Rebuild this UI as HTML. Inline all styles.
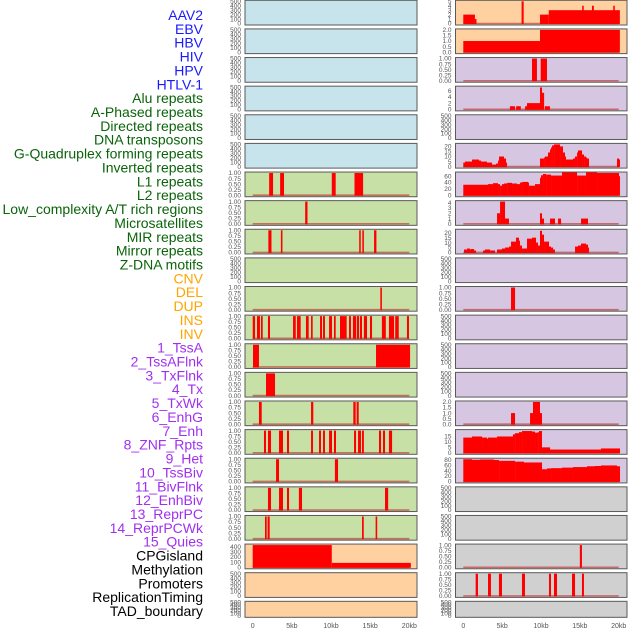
<!DOCTYPE html>
<html><head><meta charset="utf-8"><style>
html,body{margin:0;padding:0;background:#fff;width:630px;height:630px;overflow:hidden}
svg{display:block;font-family:"Liberation Sans",sans-serif}
</style></head><body>
<svg id="chart" width="630" height="630"></svg>
<script>
const labels=["AAV2","EBV","HBV","HIV","HPV","HTLV-1","Alu repeats","A-Phased repeats","Directed repeats","DNA transposons","G-Quadruplex forming repeats","Inverted repeats","L1 repeats","L2 repeats","Low_complexity A/T rich regions","Microsatellites","MIR repeats","Mirror repeats","Z-DNA motifs","CNV","DEL","DUP","INS","INV","1_TssA","2_TssAFlnk","3_TxFlnk","4_Tx","5_TxWk","6_EnhG","7_Enh","8_ZNF_Rpts","9_Het","10_TssBiv","11_BivFlnk","12_EnhBiv","13_ReprPC","14_ReprPCWk","15_Quies","CPGisland","Methylation","Promoters","ReplicationTiming","TAD_boundary"];
const labelGroups=[6,13,5,15,5];
const groupColors=["#1a1aff","#0a640a","#ffa500","#a030f0","#000"];
const T500=["0","100","200","300","400","500"];
const T1=["0.00","0.25","0.50","0.75","1.00"];
const T2=["0.0","0.5","1.0","1.5","2.0"];
const leftBg=["#c7e3ec","#c7e3ec","#c7e3ec","#c7e3ec","#c7e3ec","#c7e3ec","#c6e0a6","#c6e0a6","#c6e0a6","#c6e0a6","#c6e0a6","#c6e0a6","#c6e0a6","#c6e0a6","#c6e0a6","#c6e0a6","#c6e0a6","#c6e0a6","#c6e0a6","#ffd1a1","#ffd1a1","#ffd1a1"];
const leftTicks=[T500,T500,T500,T500,T500,T500,T1,T1,T1,T500,T1,T1,T1,T1,T1,T1,T1,T1,T1,["0","100","200","300","400"],T500,T500];
const leftMax=[500,500,500,500,500,500,1,1,1,500,1,1,1,1,1,1,1,1,1,430,500,500];
const leftSegs=[[],[],[],[],[],[],
[[2.1,2.6,1],[3.5,4.0,1],[10.1,10.6,1],[13.0,14.1,1]],
[[6.7,7.0,1]],
[[2.0,2.4,1],[3.6,3.8,1],[13.6,13.8,1],[14.0,14.2,1],[15.5,15.8,1]],
[],
[[16.3,16.5,1]],
[[0,0.3,1],[0.55,0.93,1],[1.06,1.28,1],[1.95,2.21,1],[5.15,5.5,1],[5.66,6.13,1],[6.8,7.15,1],[7.45,7.66,1],[8.6,8.85,1],[8.98,9.23,1],[9.75,10.13,1],[10.38,10.6,1],[11.15,12.0,1],[12.3,12.55,1],[12.8,13.2,1],[13.3,13.58,1],[13.7,13.96,1],[14.2,14.6,1],[14.98,15.24,1],[16.5,17.0,1],[17.4,18.05,1],[18.2,18.65,1],[19.7,19.96,1]],
[[0.04,0.8,1],[15.75,20.1,1]],
[[1.7,2.85,1]],
[[0.8,1.15,1],[7.45,7.74,1],[12.85,13.15,1],[13.28,13.54,1]],
[[1.44,1.7,1],[1.95,2.34,1],[3.36,3.87,1],[4.38,4.64,1],[7.45,7.7,1],[8.47,8.72,1],[8.98,9.23,1],[9.75,10.13,1],[10.38,10.64,1],[12.94,13.2,1],[13.45,13.83,1],[13.96,14.2,1],[16.13,16.39,1],[16.64,16.9,1],[17.4,17.8,1]],
[[2.98,3.36,1],[10.5,10.9,1]],
[[1.95,2.34,1],[3.36,3.87,1],[4.38,4.64,1],[5.9,6.3,1],[16.9,17.3,1]],
[[1.57,1.79,1],[1.9,2.17,1],[13.96,14.18,1],[15.7,15.9,1]],
[[0,10.1,430],[10.1,20.2,85]],
[],[]];
const rightBg=["#ffd1a1","#ffd1a1","#d6c6e1","#d6c6e1","#d6c6e1","#d6c6e1","#d6c6e1","#d6c6e1","#d6c6e1","#d6c6e1","#d6c6e1","#d6c6e1","#d6c6e1","#d6c6e1","#d6c6e1","#d6c6e1","#d6c6e1","#d0d0d0","#d0d0d0","#d0d0d0","#d0d0d0","#d0d0d0"];
const rightTicks=[["0","1","2","3","4","5"],T2,T1,["0","2","4","6"],T500,["0","5","10","15","20"],["0","20","40","60"],["0","1","2","3","4"],["0","5","10","15","20"],T500,T1,T500,T500,T500,T2,["0","5","10","15"],["0","20","40","60","80"],T500,T500,T1,T1,T500];
const rightMax=[5,2,1,7.1,500,22,70,4.2,22.5,500,1,500,500,500,2,20.4,82,500,500,1,1,500];
const rightSegs=[
[[0,1.5,2],[1.5,1.7,1],[7.5,7.77,5],[9.87,11.0,2],[11.0,20.15,3],[15.3,15.5,4],[16.56,16.8,4],[19.3,19.5,4]],
[[0,9.87,1],[9.87,20.15,2]],
[[8.84,9.48,1],[9.96,10.77,1]],
[[6.0,6.65,1],[6.8,7.4,1],[7.95,8.2,1],[8.2,9.87,2],[9.87,10.13,7],[10.13,10.4,5.3],[10.5,11.15,1]],
[],
[[0,0.22,4],[0.22,1.12,5],[1.12,2.02,7],[2.02,2.28,6],[2.28,3.05,5],[3.05,3.7,4],[3.7,4.21,2],[4.21,4.47,3],[4.47,4.6,6],[4.6,5.24,10],[5.24,5.5,8],[5.5,5.63,4],[9.87,10.39,8],[10.39,10.52,9],[10.52,10.9,10],[10.9,11.16,14],[11.16,11.29,17],[11.29,11.42,19],[11.42,11.68,21],[11.68,12.45,22],[12.45,12.83,20],[12.83,13.09,14],[13.09,13.22,10],[13.22,14.12,7],[14.12,14.38,8],[14.38,14.64,10],[14.64,14.76,14],[14.76,15.28,16],[15.28,15.54,12],[15.54,15.79,10],[15.79,15.92,9],[15.92,16.18,8],[19.78,20.04,8],[20.04,20.17,7]],
[[0,3.18,33],[3.18,3.82,35],[3.82,4.47,38],[4.47,4.73,35],[4.73,4.98,30],[4.98,5.24,35],[5.24,5.63,37],[5.63,6.27,39],[6.27,6.91,37],[6.91,7.3,35],[7.3,7.56,40],[7.56,8.33,42],[8.33,8.46,40],[8.46,9.23,30],[9.23,9.87,35],[9.87,10.0,55],[10.0,10.26,63],[10.26,10.65,67],[10.65,11.29,65],[11.29,12.7,62],[12.7,14.64,72],[14.64,15.79,62],[15.79,17.21,72],[17.21,20.04,70],[20.04,20.17,60]],
[[4.34,4.73,2],[4.73,5.37,4.2],[5.37,5.88,1],[9.87,10.13,2],[10.13,10.39,1],[11.16,11.8,1],[12.19,12.58,1],[15.15,16.05,1]],
[[0.09,0.48,3],[0.48,0.86,4],[0.86,0.99,3],[0.99,1.38,3.5],[1.38,1.64,2],[2.54,2.79,2],[2.79,3.44,3],[3.44,4.08,2],[4.34,4.98,3],[4.98,5.37,4],[5.37,5.88,5],[5.88,6.14,6],[6.14,6.78,11],[6.78,7.17,15],[7.17,7.3,12],[7.3,7.56,7],[7.56,8.2,4],[8.2,8.84,14],[8.84,9.36,15],[9.36,9.62,10],[9.62,9.87,7],[9.87,10.13,22],[10.13,10.39,18],[10.39,11.03,11],[11.03,11.29,6],[11.29,11.55,5],[11.55,11.8,3],[14.38,14.76,6],[14.76,15.15,7],[15.15,15.79,9],[15.79,16.05,8],[16.05,16.18,5]],
[],
[[6.14,6.66,1]],
[],[],[],
[[6.14,6.66,1],[8.59,8.97,1],[8.97,9.87,2],[9.87,10.13,1]],
[[0,1.12,14],[1.12,2.41,15],[2.41,3.05,14],[3.05,3.18,13],[3.18,4.34,14],[4.34,6.4,15],[6.4,6.66,17],[6.66,7.17,18],[7.17,7.56,19],[7.56,8.84,20],[8.84,9.23,19.5],[9.23,9.62,18.5],[9.62,9.74,19],[9.74,10.13,20],[10.13,11.16,5],[11.16,17.72,3],[17.72,20.17,4]],
[[0,1.12,82],[1.12,2.15,80],[2.15,3.95,81],[3.95,4.6,79],[4.6,6.66,76],[6.66,7.81,73],[7.81,10.13,70],[10.13,10.77,45],[10.77,11.29,48],[11.29,12.7,49],[12.7,14.12,51],[14.12,15.92,53],[15.92,16.95,56],[16.95,17.72,57],[17.72,19.78,59],[19.78,20.17,56]],
[],[],
[[15.0,15.27,1]],
[[1.59,1.89,1],[3.18,3.56,1],[4.59,4.98,1],[7.55,7.94,1],[11.03,11.29,1],[11.67,12.06,1],[13.99,14.38,1],[15.27,15.53,1]],
[]];
const xTicks=[0,5,10,15,20];
const xTickLabels=["0","5kb","10kb","15kb","20kb"];

const NS="http://www.w3.org/2000/svg";
const svg=document.getElementById('chart');
function mk(tag,attrs,parent){const e=document.createElementNS(NS,tag);for(const k in attrs)e.setAttribute(k,attrs[k]);(parent||svg).appendChild(e);return e;}
let li=0;
const lblStep=(611-15)/(labels.length-1);
labelGroups.forEach((n,g)=>{for(let j=0;j<n;j++){const t=mk('text',{x:203,y:15+li*lblStep+5,'text-anchor':'end','font-size':14,fill:groupColors[g]});


t.textContent=labels[li];li++;}});
const cols=[{x0:245,x1:417,zero:252.7,scale:7.83,bg:leftBg,ticks:leftTicks,max:leftMax,segs:leftSegs,name:'left'},
{x0:455.5,x1:627,zero:463.3,scale:7.77,bg:rightBg,ticks:rightTicks,max:rightMax,segs:rightSegs,name:'right'}];
const rowStep=28.62;
cols.forEach(c=>{
  const xs=kb=>c.zero+kb*c.scale;
  for(let i=0;i<22;i++){
    const top=i*rowStep+0.3;const h=(i==21)?16:24.7;const bottom=top+h;
    const g=mk('g',{});
    
    
    mk('rect',{x:c.x0,y:top,width:c.x1-c.x0,height:h,fill:c.bg[i],stroke:'#5a5a5a','stroke-width':1},g);
    const ys=v=>bottom-1.5-v/c.max[i]*(h-2.5);
    const tk=c.ticks[i];
    tk.forEach(tl=>{const v=parseFloat(tl);const t=mk('text',{x:c.x0-4,y:ys(v)+2.2,'text-anchor':'end','font-size':6.5,fill:'#555'},g);
      
      
      t.textContent=tl;});
    const segs=c.segs[i];
    if(segs.length){
      const bl=mk('line',{x1:xs(0),x2:xs(20),y1:ys(0),y2:ys(0),stroke:'rgba(190,40,40,0.6)','stroke-width':1.6},g);
      
      
      segs.forEach(s=>{const y=ys(s[2]);const r=mk('rect',{x:xs(s[0]),y:y,width:Math.max(0.8,xs(s[1])-xs(s[0])),height:ys(0)-y+0.5,fill:'#ff0000'},g);
        
        });
    }
  }
  xTicks.forEach((v,k)=>{const t=mk('text',{x:xs(v),y:628,'text-anchor':'middle','font-size':7,fill:'#555'});
    
    
    t.textContent=xTickLabels[k];});
});
</script>
</body></html>
